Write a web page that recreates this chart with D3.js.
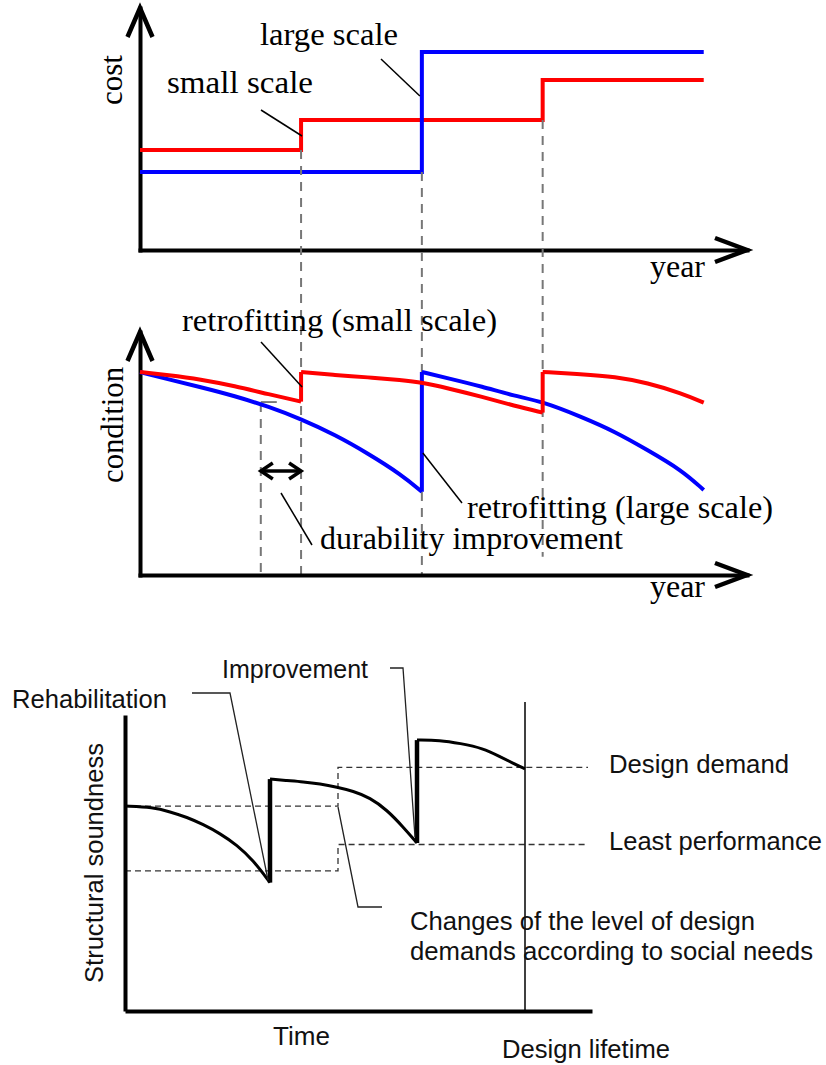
<!DOCTYPE html>
<html><head><meta charset="utf-8">
<script src="https://cdn.jsdelivr.net/npm/d3@7"></script>
<style>body{margin:0;background:#fff}</style>
</head><body>
<svg id="c" width="826" height="1065"></svg>
<script>
// ---------- Panel 1: cost (step series, [year, cost]) ----------
const costSmallScale = [[0, 50], [8, 65], [20, 85], [28, 85]];
const costLargeScale = [[0, 39], [14, 99], [28, 99]];

// ---------- Panel 2: condition (segments between retrofits, [year, condition]) ----------
const conditionSmallScale = [
  [[0, 100], [1.4, 98.5], [3, 96.4], [4.7, 93.1], [6.4, 89], [8, 85.4]],
  [[8, 100], [9.7, 98.5], [11.3, 97.4], [13, 96], [14, 94.9], [15.3, 92], [17, 87.8], [18.6, 83.3], [20, 80]],
  [[20, 100], [21.9, 99], [23.6, 97.7], [25.2, 94.7], [26.9, 89.5], [28, 84.9]]
];
const conditionLargeScale = [
  [[0, 100], [1.4, 96.4], [3, 92.6], [4.7, 88.2], [6.4, 82.9], [8, 76.8], [9.7, 69], [11.3, 60], [13, 49.3], [14, 41]],
  [[14, 100], [15.3, 96.9], [17, 92.8], [18.6, 88.2], [20, 85.4], [21.9, 78], [23.6, 70.6], [25.2, 61.6], [26.9, 51.7], [28, 41.9]]
];
const smallRetrofitYears = [8, 20];
const largeRetrofitYears = [14];
const durabilityFromYear = 6;

// ---------- Panel 3: structural soundness ----------
const soundness = [
  [[0, 68.3], [2.8, 67.9], [4.5, 66.4], [6.2, 64.6], [7.8, 62.2], [9.5, 59.2], [11.2, 55.3], [12.8, 50.3], [14.5, 42.8]],
  [[14.5, 77.3], [16.2, 76.8], [17.8, 76.4], [19.5, 75.7], [21.2, 74.6], [22.8, 73.3], [24.5, 71.1], [26.2, 67], [27.8, 61.4], [29.2, 56]],
  [[29.2, 90.3], [31.5, 90.3], [33.5, 89.2], [35.8, 87.6], [37.5, 84.8], [38.8, 82.6], [40, 80.7]]
];
const designDemand = [[0, 68.3], [21.3, 81.2], [46.3, 81.2]];
const leastPerformance = [[0, 46.7], [21.3, 55.5], [46.3, 55.5]];
const designLifetime = 40;

const svg = d3.select("#c");
const serif = "'Liberation Serif','Times New Roman',serif";
const sans = "'Liberation Sans',Arial,sans-serif";

// scales
const x12 = d3.scaleLinear().domain([0, 30]).range([140, 744]);
const y1 = d3.scaleLinear().domain([0, 100]).range([250, 50]);
const y2 = d3.scaleLinear().domain([0, 100]).range([575, 372]);
const x3 = d3.scaleLinear().domain([0, 46.7]).range([125, 592]);
const y3 = d3.scaleLinear().domain([0, 100]).range([1011, 711]);

function axisLines(g, xs, ys, xEnd, yTop, w) {
  const xa = xs.copy().domain([xs.domain()[0], xs.invert(xEnd)]).range([xs.range()[0], xEnd]);
  const ya = ys.copy().domain([ys.domain()[0], ys.invert(yTop)]).range([ys.range()[0], yTop]);
  const gx = g.append("g").attr("transform", `translate(0,${ys(0)})`)
    .call(d3.axisBottom(xa).tickValues([]).tickSizeOuter(0));
  const gy = g.append("g").attr("transform", `translate(${xs(0)},0)`)
    .call(d3.axisLeft(ya).tickValues([]).tickSizeOuter(0));
  [gx, gy].forEach(a => a.select(".domain").attr("stroke", "#000").attr("stroke-width", w).attr("stroke-linecap", "square"));
}
function arrowHeads(g, xs, ys, xEnd, yTop) {
  const ox = xs(0), oy = ys(0);
  g.append("path").attr("d", `M${ox - 12.5},${yTop + 29}L${ox},${yTop}L${ox + 12.5},${yTop + 29}`)
    .attr("fill", "none").attr("stroke", "#000").attr("stroke-width", 4.5).attr("stroke-linejoin", "miter");
  g.append("path").attr("d", `M${xEnd - 32},${oy - 12}L${xEnd},${oy}L${xEnd - 32},${oy + 12}`)
    .attr("fill", "none").attr("stroke", "#000").attr("stroke-width", 4.5).attr("stroke-linejoin", "miter");
}
function label(g, txt, x, y, len, font, size, opts = {}) {
  const t = g.append("text").attr("x", x).attr("y", y).text(txt)
    .attr("font-family", font).attr("font-size", size).attr("fill", opts.fill || "#000")
    .attr("textLength", len).attr("lengthAdjust", "spacingAndGlyphs");
  if (opts.rotate) {
    t.attr("x", 0).attr("y", 0).attr("text-anchor", "middle")
      .attr("transform", `translate(${x},${y}) rotate(-90)`);
  }
  return t;
}
function leader(g, pts, w = 1.5, color = "#000") {
  g.append("path").attr("d", d3.line()(pts)).attr("fill", "none").attr("stroke", color).attr("stroke-width", w);
}

// ---------- Panel 1 ----------
const p1 = svg.append("g");
const guides = svg.append("g").attr("stroke", "#777").attr("stroke-width", 2).attr("stroke-dasharray", "9,7").attr("fill", "none");
function prevStepVal(series, yr) { let v = series[0][1]; series.forEach(d => { if (d[0] < yr) v = d[1]; }); return v; }
smallRetrofitYears.forEach((yr, i) => {
  const yStart = y1(prevStepVal(costSmallScale, yr));
  const yEnd = i === smallRetrofitYears.length - 1 ? y2(9) : y2(0);
  guides.append("line").attr("x1", x12(yr)).attr("x2", x12(yr)).attr("y1", yStart).attr("y2", yEnd);
});
largeRetrofitYears.forEach(yr => {
  guides.append("line").attr("x1", x12(yr)).attr("x2", x12(yr)).attr("y1", y1(prevStepVal(costLargeScale, yr))).attr("y2", y2(0));
});
guides.append("line").attr("x1", x12(durabilityFromYear)).attr("x2", x12(durabilityFromYear))
  .attr("y1", y2(84.7)).attr("y2", y2(0));
svg.append("line").attr("x1", x12(durabilityFromYear)).attr("x2", x12(durabilityFromYear) + 16)
  .attr("y1", y2(85.2)).attr("y2", y2(85.2)).attr("stroke", "#555").attr("stroke-width", 1.5);

axisLines(p1, x12, y1, 747, 8, 4);
arrowHeads(p1, x12, y1, 747, 8);

const stepLine = d3.line().x(d => x12(d[0])).y(d => y1(d[1])).curve(d3.curveStepAfter);
p1.append("path").attr("d", stepLine(costSmallScale)).attr("fill", "none").attr("stroke", "#ff0000").attr("stroke-width", 4);
p1.append("path").attr("d", stepLine(costLargeScale)).attr("fill", "none").attr("stroke", "#0000ff").attr("stroke-width", 4);

label(p1, "cost", 122, 80, 50, serif, 31, { rotate: true });
label(p1, "large scale", 260, 45, 138, serif, 31);
label(p1, "small scale", 167, 93, 146, serif, 31);
label(p1, "year", 650, 277, 55, serif, 31);
leader(p1, [[261, 110], [302, 136]]);
leader(p1, [[381, 59], [x12(14) - 2, 96]]);

// ---------- Panel 2 ----------
const p2 = svg.append("g");
axisLines(p2, x12, y2, 747, 332, 4);
arrowHeads(p2, x12, y2, 747, 332);
const curve2 = d3.line().x(d => x12(d[0])).y(d => y2(d[1])).curve(d3.curveBasis);
function drawSegments(g, segs, line, color, w, jw) {
  segs.forEach((s, i) => {
    g.append("path").attr("d", line(s)).attr("fill", "none").attr("stroke", color).attr("stroke-width", w).attr("stroke-linejoin", "round");
    if (i < segs.length - 1) {
      const a = s[s.length - 1], b = segs[i + 1][0];
      g.append("path").attr("d", d3.line().curve(d3.curveLinear).x(d => line.x()(d)).y(d => line.y()(d))([a, b]))
        .attr("fill", "none").attr("stroke", color).attr("stroke-width", jw);
    }
  });
}
drawSegments(p2, conditionLargeScale, curve2, "#0000ff", 4, 4);
drawSegments(p2, conditionSmallScale, curve2, "#ff0000", 4, 4);

label(p2, "condition", 123, 425, 116, serif, 31, { rotate: true });
label(p2, "retrofitting (small scale)", 182, 331, 315, serif, 31);
label(p2, "retrofitting (large scale)", 467, 518, 306, serif, 31);
label(p2, "durability improvement", 320, 549, 303, serif, 31);
label(p2, "year", 650, 597, 55, serif, 31);
leader(p2, [[261, 342], [x12(8) + 1, 387]]);
leader(p2, [[x12(14) + 1, 453], [462, 503]]);
leader(p2, [[281, 493], [312, 545]]);
// durability double arrow
const ay = 471, ax1 = x12(durabilityFromYear), ax2 = x12(8);
p2.append("line").attr("x1", ax1 + 2).attr("x2", ax2 - 2).attr("y1", ay).attr("y2", ay).attr("stroke", "#000").attr("stroke-width", 3.5);
p2.append("path").attr("d", `M${ax1 + 12},${ay - 8}L${ax1},${ay}L${ax1 + 12},${ay + 8}`).attr("fill", "none").attr("stroke", "#000").attr("stroke-width", 3.5);
p2.append("path").attr("d", `M${ax2 - 12},${ay - 8}L${ax2},${ay}L${ax2 - 12},${ay + 8}`).attr("fill", "none").attr("stroke", "#000").attr("stroke-width", 3.5);

// ---------- Panel 3 ----------
const p3 = svg.append("g");
const stepLine3 = d3.line().x(d => x3(d[0])).y(d => y3(d[1])).curve(d3.curveStepAfter);
p3.append("path").attr("d", stepLine3(designDemand)).attr("fill", "none").attr("stroke", "#333").attr("stroke-width", 1.3).attr("stroke-dasharray", "6,4");
p3.append("path").attr("d", stepLine3(leastPerformance)).attr("fill", "none").attr("stroke", "#333").attr("stroke-width", 1.3).attr("stroke-dasharray", "6,4");
const gx3 = p3.append("g").attr("transform", `translate(0,${y3(0)})`).call(d3.axisBottom(x3).tickValues([]).tickSizeOuter(0));
const y3a = y3.copy().domain([0, y3.invert(715)]).range([1011, 715]);
const gy3 = p3.append("g").attr("transform", `translate(${x3(0)},0)`).call(d3.axisLeft(y3a).tickValues([]).tickSizeOuter(0));
[gx3, gy3].forEach(a => a.select(".domain").attr("stroke", "#000").attr("stroke-width", 4));
p3.append("line").attr("x1", x3(designLifetime)).attr("x2", x3(designLifetime)).attr("y1", 702).attr("y2", y3(0))
  .attr("stroke", "#000").attr("stroke-width", 1.5);
const curve3 = d3.line().x(d => x3(d[0])).y(d => y3(d[1])).curve(d3.curveBasis);
drawSegments(p3, soundness, curve3, "#000", 3, 4.5);

label(p3, "Structural soundness", 103, 863, 240, sans, 25, { rotate: true, fill: "#111" });
label(p3, "Rehabilitation", 12, 708, 155, sans, 25, { fill: "#111" });
label(p3, "Improvement", 222, 678, 146, sans, 25, { fill: "#111" });
label(p3, "Design demand", 609, 773, 180, sans, 25, { fill: "#111" });
label(p3, "Least performance", 609, 850, 213, sans, 25, { fill: "#111" });
label(p3, "Changes of the level of design", 410, 930, 345, sans, 25, { fill: "#111" });
label(p3, "demands according to social needs", 410, 960, 403, sans, 25, { fill: "#111" });
label(p3, "Time", 273, 1045, 57, sans, 25, { fill: "#111" });
label(p3, "Design lifetime", 502, 1058, 168, sans, 25, { fill: "#111" });
leader(p3, [[192, 693], [230, 693], [x3(14.5) - 2, 880]], 1.3, "#222");
leader(p3, [[390, 668], [403, 668], [x3(29.2) - 2, 837]], 1.3, "#222");
leader(p3, [[x3(21.3), 807], [358, 907], [382, 907]], 1.3, "#222");
</script>
</body></html>
